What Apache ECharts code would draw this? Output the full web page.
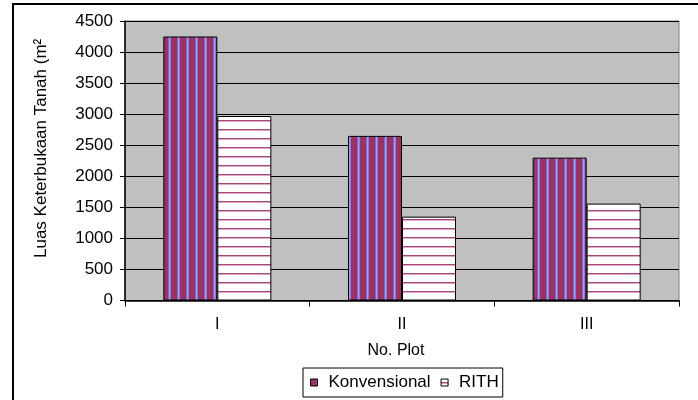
<!DOCTYPE html>
<html>
<head>
<meta charset="utf-8">
<script src="https://cdn.jsdelivr.net/npm/echarts@6/dist/echarts.min.js"></script>
<style>
html,body{margin:0;padding:0;background:#fff;}
#chart{width:698px;height:400px;}
</style>
</head>
<body>
<div id="chart"></div>
<script>
const categories = ['I', 'II', 'III'];
const konvensional = [4250, 2650, 2300];
const rith = [2970, 1350, 1560];
const yTicks = [0, 500, 1000, 1500, 2000, 2500, 3000, 3500, 4000, 4500];
const seriesNames = ['Konvensional', 'RITH'];
const xName = 'No. Plot';
const yName = 'Luas Keterbukaan Tanah (m²';

function konvPattern() {
  const c = document.createElement('canvas');
  c.width = 9; c.height = 2;
  const g = c.getContext('2d');
  g.fillStyle = '#993366'; g.fillRect(0, 0, 9, 2);
  g.fillStyle = '#8066c4'; g.fillRect(6, 0, 1, 2);
  g.fillStyle = '#a0a0ff'; g.fillRect(7, 0, 1, 2);
  g.fillStyle = '#8a7ae0'; g.fillRect(8, 0, 1, 2);
  return c;
}
function rithPattern() {
  const c = document.createElement('canvas');
  c.width = 2; c.height = 9;
  const g = c.getContext('2d');
  g.fillStyle = '#ffffff'; g.fillRect(0, 0, 2, 9);
  g.fillStyle = '#a8467a'; g.fillRect(0, 3, 2, 1);
  g.fillStyle = '#dcaac4'; g.fillRect(0, 4, 2, 1);
  return c;
}

const font = 'Liberation Sans';
const chart = echarts.init(document.getElementById('chart'), null, {renderer: 'canvas'});
chart.setOption({
  animation: false,
  textStyle: {fontFamily: font, color: '#000'},
  grid: {
    left: 125, right: 19, top: 21, bottom: 99.5,
    show: true, backgroundColor: '#c0c0c0', borderColor: '#808080', borderWidth: 1
  },
  legend: {
    data: seriesNames,
    left: 303, top: 368,
    orient: 'horizontal',
    icon: 'rect',
    itemWidth: 7, itemHeight: 7, itemGap: 10,
    padding: [6, 4, 6, 7],
    backgroundColor: '#fff', borderColor: '#000', borderWidth: 1, borderRadius: 0,
    itemStyle: {borderColor: '#000', borderWidth: 1},
    textStyle: {fontFamily: font, fontSize: 17, color: '#000', padding: [0, 0, 0, 6]}
  },
  xAxis: {
    type: 'category',
    data: categories,
    name: xName,
    nameLocation: 'middle',
    nameGap: 42,
    nameTextStyle: {fontFamily: font, fontSize: 16, color: '#000', padding: [0, 12, 0, 0]},
    axisLine: {show: true, lineStyle: {color: '#000', width: 1.5}},
    axisTick: {show: true, length: 6, lineStyle: {color: '#000'}},
    axisLabel: {fontFamily: font, fontSize: 16, color: '#000', margin: 16},
    splitLine: {show: false}
  },
  yAxis: {
    type: 'value',
    min: 0, max: 4500, interval: 500,
    axisLine: {show: true, lineStyle: {color: '#000', width: 1.5}},
    axisTick: {show: true, length: 5, lineStyle: {color: '#000'}},
    axisLabel: {fontFamily: font, fontSize: 17, color: '#000', margin: 12,
      formatter: v => (yTicks.indexOf(v) >= 0 ? String(v) : '')},
    splitLine: {show: true, lineStyle: {color: '#000', width: 1}}
  },
  series: [
    {
      name: seriesNames[0], type: 'bar', data: konvensional,
      barWidth: 54, barGap: '0%',
      itemStyle: {color: {image: konvPattern(), repeat: 'repeat'}, borderColor: '#000', borderWidth: 1}
    },
    {
      name: seriesNames[1], type: 'bar', data: rith,
      barWidth: 54, barGap: '0%',
      itemStyle: {color: {image: rithPattern(), repeat: 'repeat'}, borderColor: '#000', borderWidth: 1}
    }
  ],
  graphic: [
    {
      type: 'rect', z: -10, silent: true,
      shape: {x: 13, y: 4, width: 720, height: 440},
      style: {fill: 'none', stroke: '#000', lineWidth: 2}
    },
    {
      type: 'text', silent: true,
      x: 41, y: 258, rotation: Math.PI / 2,
      style: {text: yName, fontFamily: font, fontSize: 17, fill: '#000',
        textAlign: 'left', textVerticalAlign: 'middle'}
    }
  ]
});
</script>
</body>
</html>
